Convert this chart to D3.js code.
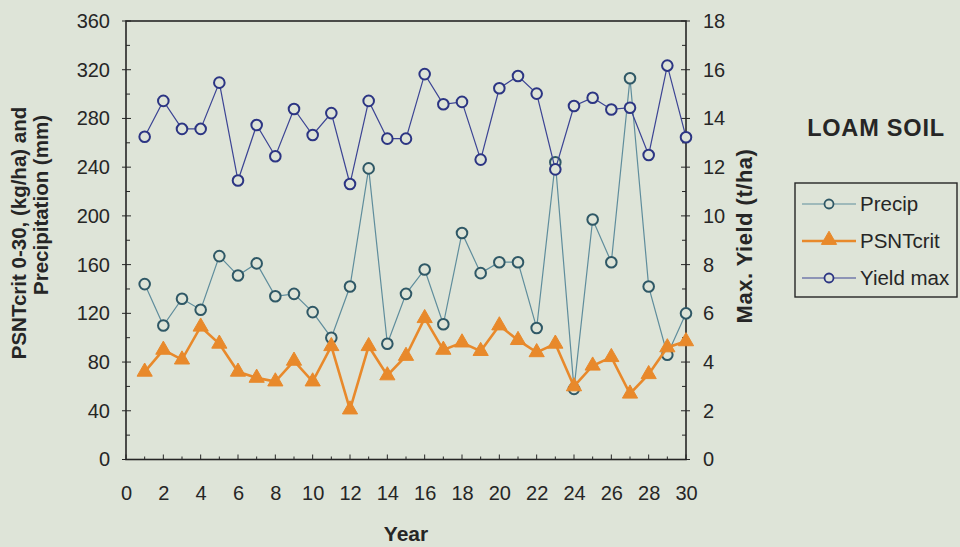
<!DOCTYPE html>
<html>
<head>
<meta charset="utf-8">
<script src="https://cdn.jsdelivr.net/npm/d3@7"></script>
<style>
  html, body { margin: 0; padding: 0; background: #dee4d8; }
  svg { display: block; font-family: "Liberation Sans", Arial, sans-serif; }
</style>
</head>
<body>
<svg id="chart" width="960" height="547"></svg>
<script>
// Simulated years
const years = d3.range(1, 31);

// Growing-season precipitation (mm), left axis
const precip = [144, 110, 132, 123, 167, 151, 161, 134, 136, 121,
                100, 142, 239, 95, 136, 156, 111, 186, 153, 162,
                162, 108, 244, 58, 197, 162, 313, 142, 86, 120];

// Critical pre-sidedress soil nitrate 0-30 cm (kg/ha), left axis
const psntCrit = [72, 90, 82, 109, 95, 72, 67, 64, 81, 64,
                  93, 41, 93, 69, 85, 116, 90, 96, 89, 110,
                  98, 88, 95, 60, 77, 84, 54, 70, 92, 97];

// Maximum yield (t/ha), right axis
const yieldMax = [13.25, 14.72, 13.57, 13.57, 15.47, 11.45, 13.73, 12.45, 14.39, 13.32,
                  14.22, 11.31, 14.72, 13.17, 13.17, 15.82, 14.58, 14.68, 12.31, 15.24,
                  15.74, 15.02, 11.91, 14.51, 14.85, 14.37, 14.44, 12.50, 16.17, 13.23];

const xTicks = d3.range(0, 31, 2);
const leftTicks = d3.range(0, 361, 40);
const rightTicks = d3.range(0, 19, 2);

const bg = "#dee4d8";
const ink = "#262626";
const cPrecipLine = "#5f8d9c";
const cPrecipMark = "#2f5866";
const cPsnt = "#e8892b";
const cYield = "#3c4494";
const cYieldMark = "#2c3583";

const svg = d3.select("#chart");
svg.append("rect").attr("width", 960).attr("height", 547).attr("fill", bg);

const x = d3.scaleLinear().domain([0, 30]).range([126, 686]);
const yL = d3.scaleLinear().domain([0, 360]).range([459.5, 21]);
const yR = d3.scaleLinear().domain([0, 18]).range([459.5, 21]);

// Tick marks: minor every year / every 20 units, major at labelled values
const minorX = d3.range(0, 31, 1);
const minorY = d3.range(0, 361, 20);
const ticks = svg.append("g").attr("stroke", ink).attr("stroke-width", 1);
minorX.forEach(v => {
  ticks.append("line").attr("x1", x(v)).attr("x2", x(v))
    .attr("y1", yL(0)).attr("y2", yL(0) - (v % 2 === 0 ? 5 : 3));
});
minorY.forEach(v => {
  const len = v % 40 === 0 ? 5 : 4;
  ticks.append("line").attr("x1", x(0) - (v % 40 === 0 ? 4 : 0)).attr("x2", x(0) + len)
    .attr("y1", yL(v)).attr("y2", yL(v));
  ticks.append("line").attr("x1", x(30) - len).attr("x2", x(30) + (v % 40 === 0 ? 4 : 0))
    .attr("y1", yL(v)).attr("y2", yL(v));
});

// Frame
svg.append("rect")
  .attr("x", x(0)).attr("y", yL(360))
  .attr("width", x(30) - x(0)).attr("height", yL(0) - yL(360))
  .attr("fill", "none").attr("stroke", ink).attr("stroke-width", 1.6);

// Tick labels via d3 axes (tick lines drawn above)
const axB = svg.append("g").attr("transform", `translate(0,${yL(0)})`)
  .call(d3.axisBottom(x).tickValues(xTicks).tickSize(0).tickPadding(33));
const axL = svg.append("g").attr("transform", `translate(${x(0)},0)`)
  .call(d3.axisLeft(yL).tickValues(leftTicks).tickSize(0).tickPadding(16));
const axR = svg.append("g").attr("transform", `translate(${x(30)},0)`)
  .call(d3.axisRight(yR).tickValues(rightTicks).tickSize(0).tickPadding(17));
[axB, axL, axR].forEach(g => {
  g.select(".domain").remove();
  g.selectAll("text").attr("font-size", 20).attr("fill", ink)
    .attr("font-family", "Liberation Sans, Arial, sans-serif");
});
axB.selectAll("text").attr("dy", "0.35em");

// Axis titles
svg.append("text").attr("x", 406).attr("y", 541).attr("text-anchor", "middle")
  .attr("font-size", 21).attr("font-weight", "bold").attr("fill", ink).text("Year");
svg.append("text").attr("transform", "translate(26,233) rotate(-90)")
  .attr("text-anchor", "middle").attr("font-size", 20.5).attr("font-weight", "bold")
  .attr("fill", ink).text("PSNTcrit 0-30, (kg/ha) and");
svg.append("text").attr("transform", "translate(48,205) rotate(-90)")
  .attr("text-anchor", "middle").attr("font-size", 20.5).attr("font-weight", "bold")
  .attr("fill", ink).text("Precipitation (mm)");
svg.append("text").attr("transform", "translate(752,236) rotate(-90)")
  .attr("text-anchor", "middle").attr("font-size", 22).attr("font-weight", "bold")
  .attr("letter-spacing", 0.5).attr("fill", ink).text("Max. Yield (t/ha)");

// Series
const lineL = d3.line().x((d, i) => x(years[i])).y(d => yL(d));
const lineR = d3.line().x((d, i) => x(years[i])).y(d => yR(d));
const tri = d3.symbol().type(d3.symbolTriangle).size(100);

svg.append("path").datum(precip).attr("d", lineL)
  .attr("fill", "none").attr("stroke", cPrecipLine).attr("stroke-width", 1.2);
svg.append("g").selectAll("circle").data(precip).join("circle")
  .attr("cx", (d, i) => x(years[i])).attr("cy", d => yL(d)).attr("r", 5.3)
  .attr("fill", bg).attr("stroke", cPrecipMark).attr("stroke-width", 2);

svg.append("path").datum(psntCrit).attr("d", lineL)
  .attr("fill", "none").attr("stroke", cPsnt).attr("stroke-width", 2.6);
svg.append("g").selectAll("path").data(psntCrit).join("path")
  .attr("d", tri)
  .attr("transform", (d, i) => `translate(${x(years[i])},${yL(d)})`)
  .attr("fill", cPsnt).attr("stroke", cPsnt).attr("stroke-width", 1);

svg.append("path").datum(yieldMax).attr("d", lineR)
  .attr("fill", "none").attr("stroke", cYield).attr("stroke-width", 1.2);
svg.append("g").selectAll("circle").data(yieldMax).join("circle")
  .attr("cx", (d, i) => x(years[i])).attr("cy", d => yR(d)).attr("r", 5.3)
  .attr("fill", bg).attr("stroke", cYieldMark).attr("stroke-width", 2);

// Title
svg.append("text").attr("x", 876).attr("y", 136).attr("text-anchor", "middle")
  .attr("font-size", 23.5).attr("font-weight", "bold").attr("letter-spacing", 0.8)
  .attr("fill", ink).text("LOAM SOIL");

// Legend
const legendItems = [
  { name: "Precip", line: cPrecipLine, mark: "circle", stroke: cPrecipMark, w: 1.2 },
  { name: "PSNTcrit", line: cPsnt, mark: "triangle", stroke: cPsnt, w: 2.6 },
  { name: "Yield max", line: cYield, mark: "circle", stroke: cYieldMark, w: 1.2 }
];
const lg = svg.append("g");
lg.append("rect").attr("x", 795).attr("y", 183).attr("width", 162).attr("height", 114)
  .attr("fill", bg).attr("stroke", ink).attr("stroke-width", 1.4);
legendItems.forEach((it, i) => {
  const cy = 204 + i * 37;
  lg.append("line").attr("x1", 802).attr("x2", 856).attr("y1", cy).attr("y2", cy)
    .attr("stroke", it.line).attr("stroke-width", it.w);
  if (it.mark === "circle") {
    lg.append("circle").attr("cx", 829).attr("cy", cy).attr("r", 4.5)
      .attr("fill", bg).attr("stroke", it.stroke).attr("stroke-width", 1.8);
  } else {
    lg.append("path").attr("d", tri).attr("transform", `translate(829,${cy - 1})`)
      .attr("fill", cPsnt).attr("stroke", cPsnt);
  }
  lg.append("text").attr("x", 860).attr("y", cy).attr("dy", "0.35em")
    .attr("font-size", 20.5).attr("fill", ink).text(it.name);
});
</script>
</body>
</html>
